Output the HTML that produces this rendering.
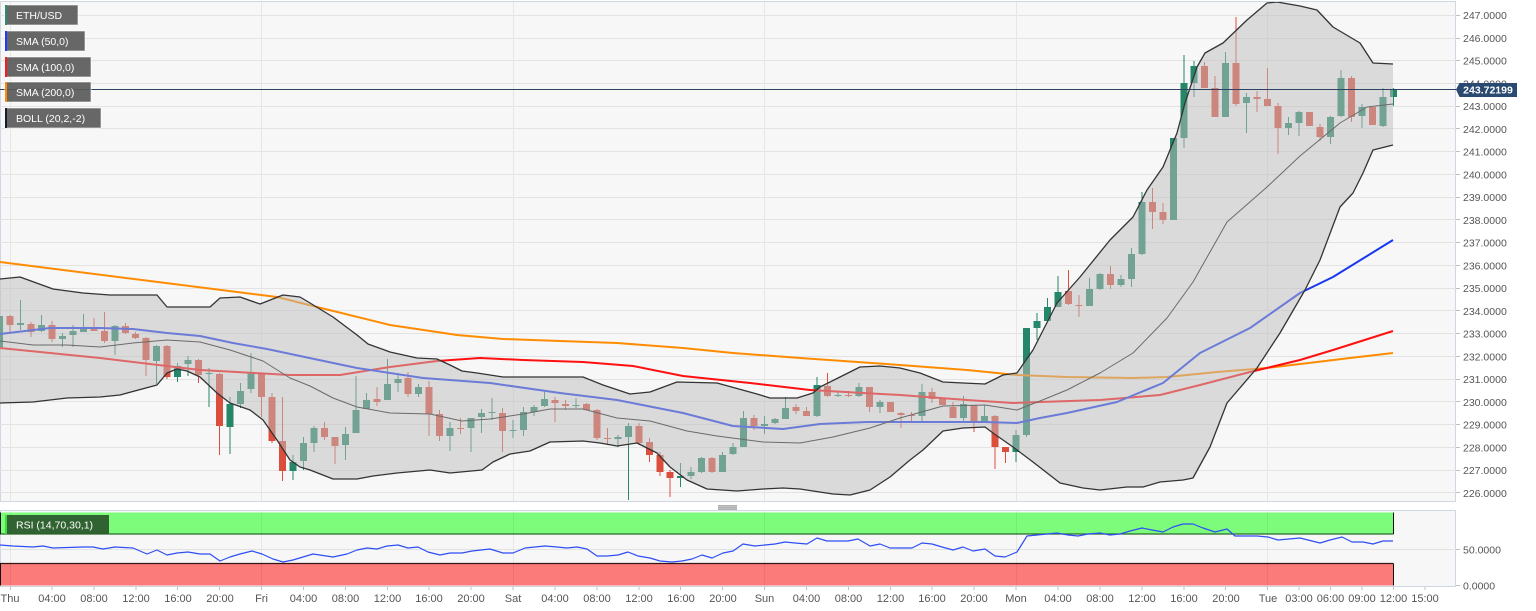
<!DOCTYPE html>
<html><head><meta charset="utf-8"><style>
html,body{margin:0;padding:0;background:#fff;}
svg{display:block;font-family:"Liberation Sans",Arial,Helvetica,sans-serif;}
</style></head><body>
<svg width="1536" height="611" viewBox="0 0 1536 611" xmlns="http://www.w3.org/2000/svg">
<defs>
<clipPath id="mainclip"><rect x="0" y="2" width="1456" height="499"/></clipPath>
</defs>
<rect x="0" y="0" width="1536" height="611" fill="#ffffff"/>
<!-- main panel -->
<rect x="0.5" y="1.5" width="1455" height="500" fill="#f7f7f7" stroke="#cfd6e4" stroke-width="1"/>
<g stroke="#e3e3e3" stroke-width="1">
<path d="M0 15.5H1456M0 38.5H1456M0 60.5H1456M0 83.5H1456M0 106.5H1456M0 128.5H1456M0 151.5H1456M0 174.5H1456M0 197.5H1456M0 219.5H1456M0 242.5H1456M0 265.5H1456M0 288.5H1456M0 310.5H1456M0 333.5H1456M0 356.5H1456M0 379.5H1456M0 401.5H1456M0 424.5H1456M0 447.5H1456M0 470.5H1456M0 492.5H1456"/>
<path d="M10.5 2V501M261.5 2V501M513.5 2V501M764.5 2V501M1016.5 2V501M1267.5 2V501" stroke="#e6e6e6"/>
</g>
<g clip-path="url(#mainclip)">
<!-- green candles -->
<path fill="none" stroke="#26866a" stroke-width="1" d="M-0.5 305V350M20.5 300V330M41.5 315V332M62.5 333V347M73 325V347M83.5 314V332M115 325V355M156.5 345V384M177.5 363V382M188 356V376M209 368V407M230 397V454M240.5 383V408M251 353V393M293 455V480M303.5 437V470M314 426V452M345.5 427V460M356 376V433M366.5 393V409M387.5 359V400M398 374V392M418.5 384V397M450 422V451M471 418V452M481.5 409V433M492 398V420M513 420V438M523.5 407V436M534 405V416M544.5 392V407M576 398V408M618 435V447M628.5 423V500M680.5 463V487M691 467V479M701.5 457V473M722.5 452V472M733 443V455M743.5 411V447M764.5 416V434M775 418V424M785.5 397V419M817 377V417M838 392V397M859 383V397M880 400V413M922 384V422M963.5 396V423M984.5 405V423M1016 430V462M1026.5 328V437M1037 313V340M1047.5 298V322M1058 276V307M1089.5 278V306M1100 273V290M1121 275V287M1131.5 248V287M1142 192V255M1173.5 138V220M1184 55V148M1194 61V97M1225.5 52V117M1246.5 93V133M1288.5 117V135M1299 111V136M1330.5 116V144M1341 70V117M1362 104V128M1383 88V127M1393.5 88V106"/>
<path fill="#26866a" d="M-4 316h7V347h-7zM17 323h7V325h-7zM38 325h7V331h-7zM59 336h7V339h-7zM69.5 331h7V335h-7zM80 328h7V332h-7zM111.5 326h7V341h-7zM153 346h7V361h-7zM174 366h7V377h-7zM184.5 360h7V364h-7zM205.5 373h7V374h-7zM226.5 404h7V427h-7zM237 391h7V404h-7zM247.5 373h7V389h-7zM289.5 462h7V471h-7zM300 443h7V461h-7zM310.5 428h7V443h-7zM342 434h7V445h-7zM352.5 410h7V433h-7zM363 400h7V409h-7zM384 384h7V400h-7zM394.5 379h7V383h-7zM415 387h7V394h-7zM446.5 428h7V436h-7zM467.5 418h7V428h-7zM478 413h7V417h-7zM488.5 412h7V413h-7zM509.5 430h7V431h-7zM520 412h7V430h-7zM530.5 407h7V412h-7zM541 399h7V406h-7zM572.5 405h7V406h-7zM614.5 437h7V439h-7zM625 426h7V437h-7zM677 476h7V478h-7zM687.5 472h7V476h-7zM698 458h7V472h-7zM719 455h7V472h-7zM729.5 447h7V454h-7zM740 418h7V447h-7zM761 424h7V426h-7zM771.5 419h7V423h-7zM782 408h7V419h-7zM813.5 385h7V416h-7zM834.5 395h7V396h-7zM855.5 387h7V396h-7zM876.5 402h7V407h-7zM918.5 392h7V416h-7zM960 404h7V418h-7zM981 416h7V422h-7zM1012.5 435h7V452h-7zM1023 328h7V435h-7zM1033.5 321h7V328h-7zM1044 307h7V321h-7zM1054.5 292h7V307h-7zM1086 289h7V306h-7zM1096.5 274h7V289h-7zM1117.5 279h7V285h-7zM1128 254h7V279h-7zM1138.5 202h7V254h-7zM1170 138h7V220h-7zM1180.5 83h7V138h-7zM1190.5 66h7V83h-7zM1222 63h7V117h-7zM1243 97h7V103h-7zM1285 123h7V128h-7zM1295.5 112h7V123h-7zM1327 117h7V137h-7zM1337.5 78h7V116h-7zM1358.5 107h7V116h-7zM1379.5 97h7V126h-7zM1390 89h7V97h-7z"/>
<!-- red candles -->
<path fill="none" stroke="#dc4e3c" stroke-width="1" d="M10 315V332M31 322V337M52 321V342M94 318V331M104.5 312V343M125.5 323V334M135.5 332V339M146 337V376M167 345V379M198.5 359V383M219.5 373V455M261.5 373V417M272 393V443M282.5 397V481M324.5 422V440M335 437V464M377 387V406M408 372V397M429 381V436M439.5 410V441M460.5 418V434M502.5 408V452M555 397V422M565.5 400V410M586.5 403V410M597 409V440M607.5 428V445M639 423V445M649.5 438V462M660 452V476M670 470V497M712 457V473M754 415V430M796 404V414M806.5 407V416M827.5 373V397M848.5 391V397M869.5 387V412M890.5 402V412M901 412V428M911.5 412V421M932 388V403M942.5 399V405M953 402V418M974 405V432M995 415V469M1005.5 447V463M1068.5 270V305M1079 295V317M1110.5 266V289M1152.5 188V229M1163 203V224M1204.5 62V88M1215 76V117M1236 17V106M1257 91V112M1267.5 68V106M1278 103V154M1309.5 112V126M1320 124V141M1351.5 76V122M1372.5 107V125"/>
<path fill="#dc4e3c" d="M6.5 316h7V325h-7zM27.5 324h7V332h-7zM48.5 325h7V339h-7zM90.5 328h7V331h-7zM101 331h7V341h-7zM122 326h7V333h-7zM132 334h7V338h-7zM142.5 338h7V360h-7zM163.5 346h7V377h-7zM195 360h7V375h-7zM216 374h7V426h-7zM258 374h7V397h-7zM268.5 397h7V441h-7zM279 441h7V471h-7zM321 428h7V437h-7zM331.5 437h7V446h-7zM373.5 399h7V402h-7zM404.5 378h7V394h-7zM425.5 387h7V414h-7zM436 414h7V436h-7zM457 428h7V429h-7zM499 413h7V431h-7zM551.5 400h7V403h-7zM562 404h7V406h-7zM583 404h7V410h-7zM593.5 410h7V438h-7zM604 438h7V439h-7zM635.5 426h7V443h-7zM646 442h7V455h-7zM656.5 455h7V472h-7zM666.5 472h7V478h-7zM708.5 458h7V472h-7zM750.5 418h7V426h-7zM792.5 407h7V411h-7zM803 411h7V416h-7zM824 386h7V396h-7zM845 395h7V396h-7zM866 387h7V407h-7zM887 402h7V412h-7zM897.5 413h7V415h-7zM908 415h7V416h-7zM928.5 392h7V399h-7zM939 399h7V405h-7zM949.5 407h7V418h-7zM970.5 405h7V422h-7zM991.5 416h7V447h-7zM1002 447h7V452h-7zM1065 291h7V304h-7zM1075.5 305h7V306h-7zM1107 274h7V285h-7zM1149 202h7V212h-7zM1159.5 212h7V220h-7zM1201 66h7V88h-7zM1211.5 88h7V117h-7zM1232.5 63h7V104h-7zM1253.5 97h7V99h-7zM1264 99h7V106h-7zM1274.5 106h7V128h-7zM1306 112h7V126h-7zM1316.5 127h7V137h-7zM1348 78h7V117h-7zM1369 107h7V125h-7z"/>
<!-- SMAs -->
<path fill="none" stroke="#ff8c00" stroke-width="2" stroke-linejoin="round" d="M0 262 L150 281 L277 297 L317 307 L390 325 L457 335 L503 339 L560 341 L617 343 L683 348 L733 353 L800 358 L900 365 L967 370 L1017 375 L1067 377 L1133 378 L1167 377 L1217 372 L1267 368 L1317 362 L1350 358 L1393 353"/>
<path fill="none" stroke="#ff1010" stroke-width="2" stroke-linejoin="round" d="M0 348 L100 358 L200 370 L290 375 L340 375 L390 367 L437 361 L480 358 L523 360 L583 362 L633 366 L683 376 L750 383 L810 390 L900 395 L967 400 L1013 403 L1040 402 L1100 400 L1160 395 L1200 385 L1250 372 L1300 360 L1333 350 L1393 331"/>
<path fill="none" stroke="#1838f0" stroke-width="2" stroke-linejoin="round" d="M0 334 L50 328 L100 328 L133 329 L167 333 L200 336 L233 343 L267 349 L300 356 L357 368 L423 378 L490 383 L560 393 L617 400 L683 413 L733 426 L783 429 L820 424 L867 422 L933 422 L983 422 L1017 423 L1040 418 L1067 413 L1117 402 L1163 383 L1200 353 L1250 328 L1300 293 L1333 277 L1393 240"/>
<!-- Bollinger fill -->
<polygon fill="rgba(190,190,190,0.5)" points="0,279 20,277 53,289 83,293 110,295 157,295 167,307 210,307 220,298 240,297 260,304 283,295 300,297 310,303 333,317 357,335 368,344 390,352 417,358 437,359 450,365 462,371 477,373 503,377 523,377 583,377 603,385 630,394 650,392 677,382 717,383 757,394 770,398 797,398 813,393 820,387 840,377 860,367 880,366 900,368 920,373 943,382 963,383 985,384 1003,375 1017,373 1033,350 1057,303 1080,277 1110,240 1133,217 1147,190 1163,167 1177,133 1185,103 1197,67 1205,53 1223,43 1247,20 1267,3 1277,2 1300,6 1317,10 1333,27 1360,43 1373,63 1393,64 1393,145 1373,150 1363,173 1353,193 1340,207 1320,260 1305,290 1280,333 1257,368 1227,403 1210,447 1193,478 1183,480 1160,482 1143,487 1127,487 1100,490 1083,488 1060,483 1033,462 1013,447 993,433 985,427 963,428 943,431 923,450 910,460 890,477 870,490 850,495 833,494 813,491 800,489 783,488 763,489 737,491 707,489 687,480 670,467 657,453 637,443 617,446 600,443 583,441 550,442 530,451 510,454 493,462 482,470 450,473 430,470 397,473 373,476 357,479 333,479 310,470 300,467 290,460 277,440 263,420 250,410 230,403 217,393 200,377 187,371 177,369 167,373 157,385 120,395 100,397 67,398 33,402 0,403"/>
<!-- Bollinger lines -->
<polyline fill="none" stroke="#333" stroke-width="1.3" stroke-linejoin="round" points="0,279 20,277 53,289 83,293 110,295 157,295 167,307 210,307 220,298 240,297 260,304 283,295 300,297 310,303 333,317 357,335 368,344 390,352 417,358 437,359 450,365 462,371 477,373 503,377 523,377 583,377 603,385 630,394 650,392 677,382 717,383 757,394 770,398 797,398 813,393 820,387 840,377 860,367 880,366 900,368 920,373 943,382 963,383 985,384 1003,375 1017,373 1033,350 1057,303 1080,277 1110,240 1133,217 1147,190 1163,167 1177,133 1185,103 1197,67 1205,53 1223,43 1247,20 1267,3 1277,2 1300,6 1317,10 1333,27 1360,43 1373,63 1393,64"/>
<polyline fill="none" stroke="#333" stroke-width="1.3" stroke-linejoin="round" points="1393,145 1373,150 1363,173 1353,193 1340,207 1320,260 1305,290 1280,333 1257,368 1227,403 1210,447 1193,478 1183,480 1160,482 1143,487 1127,487 1100,490 1083,488 1060,483 1033,462 1013,447 993,433 985,427 963,428 943,431 923,450 910,460 890,477 870,490 850,495 833,494 813,491 800,489 783,488 763,489 737,491 707,489 687,480 670,467 657,453 637,443 617,446 600,443 583,441 550,442 530,451 510,454 493,462 482,470 450,473 430,470 397,473 373,476 357,479 333,479 310,470 300,467 290,460 277,440 263,420 250,410 230,403 217,393 200,377 187,371 177,369 167,373 157,385 120,395 100,397 67,398 33,402 0,403"/>
<path fill="none" stroke="#6a6a6a" stroke-width="1" stroke-linejoin="round" d="M0 341 L33 345 L67 345 L100 347 L133 343 L167 340 L200 342 L230 350 L263 361 L290 378 L310 386 L333 398 L357 407 L390 413 L430 414 L462 421 L490 419 L523 414 L550 409 L583 409 L617 418 L650 421 L687 431 L717 436 L763 442 L800 443 L833 437 L870 428 L900 418 L943 406 L985 405 L1017 410 L1040 401 L1067 390 L1100 373 L1133 353 L1167 318 L1193 282 L1227 222 L1267 187 L1300 156 L1340 123 L1367 107 L1393 104"/>
<!-- current price line -->
<path d="M0 89.5H1456" stroke="#2e4262" stroke-width="1"/>
</g>
<!-- legend -->
<g font-size="10.5" fill="#fff">
<rect x="5" y="5" width="73" height="20" fill="#5a5a5a" fill-opacity="0.92" stroke="#fff" stroke-opacity="0.6"/>
<rect x="5" y="5" width="2" height="20" fill="#2e8b6e"/>
<text x="16" y="19">ETH/USD</text>
<rect x="5" y="31" width="80" height="20" fill="#5a5a5a" fill-opacity="0.92" stroke="#fff" stroke-opacity="0.6"/>
<rect x="5" y="31" width="2" height="20" fill="#1a3cff"/>
<text x="16" y="45">SMA (50,0)</text>
<rect x="5" y="57" width="86" height="20" fill="#5a5a5a" fill-opacity="0.92" stroke="#fff" stroke-opacity="0.6"/>
<rect x="5" y="57" width="2" height="20" fill="#ff1a1a"/>
<text x="16" y="71">SMA (100,0)</text>
<rect x="5" y="82" width="86" height="20" fill="#5a5a5a" fill-opacity="0.92" stroke="#fff" stroke-opacity="0.6"/>
<rect x="5" y="82" width="2" height="20" fill="#ff8c00"/>
<text x="16" y="96">SMA (200,0)</text>
<rect x="5" y="108" width="96" height="20" fill="#5a5a5a" fill-opacity="0.92" stroke="#fff" stroke-opacity="0.6"/>
<rect x="5" y="108" width="2" height="20" fill="#1a1a2a"/>
<text x="16" y="122">BOLL (20,2,-2)</text>
</g>
<!-- price axis -->
<g stroke="#b8bfcc" stroke-width="1">
<path d="M1456 15.5h4M1456 38.5h4M1456 60.5h4M1456 83.5h4M1456 106.5h4M1456 128.5h4M1456 151.5h4M1456 174.5h4M1456 197.5h4M1456 219.5h4M1456 242.5h4M1456 265.5h4M1456 288.5h4M1456 310.5h4M1456 333.5h4M1456 356.5h4M1456 379.5h4M1456 401.5h4M1456 424.5h4M1456 447.5h4M1456 470.5h4M1456 492.5h4"/>
</g>
<g font-size="10.5" fill="#555">
<text x="1463" y="19">247.0000</text>
<text x="1463" y="42">246.0000</text>
<text x="1463" y="64.5">245.0000</text>
<text x="1463" y="87.5">244.0000</text>
<text x="1463" y="110">243.0000</text>
<text x="1463" y="133">242.0000</text>
<text x="1463" y="155.5">241.0000</text>
<text x="1463" y="178.5">240.0000</text>
<text x="1463" y="201">239.0000</text>
<text x="1463" y="224">238.0000</text>
<text x="1463" y="246.5">237.0000</text>
<text x="1463" y="269.5">236.0000</text>
<text x="1463" y="292">235.0000</text>
<text x="1463" y="315">234.0000</text>
<text x="1463" y="337.5">233.0000</text>
<text x="1463" y="360.5">232.0000</text>
<text x="1463" y="383">231.0000</text>
<text x="1463" y="406">230.0000</text>
<text x="1463" y="428.5">229.0000</text>
<text x="1463" y="451.5">228.0000</text>
<text x="1463" y="474">227.0000</text>
<text x="1463" y="497">226.0000</text>
</g>
<polygon points="1456,89.5 1459.5,83 1517,83 1517,97 1459.5,97" fill="#2b4a72"/>
<text x="1488" y="93.5" font-size="10.5" font-weight="bold" fill="#fff" text-anchor="middle">243.72199</text>
<!-- separator handle -->
<rect x="718" y="505" width="19" height="5" fill="#b0b0b0"/>
<path d="M718 506.5h19M718 508.5h19" stroke="#d0d0d0" stroke-width="0.6"/>
<!-- RSI panel -->
<rect x="0.5" y="510.5" width="1455" height="76" fill="#f7f7f7" stroke="#cfd6e4" stroke-width="1"/>
<path d="M0 549.5H1456" stroke="#e2e2e2" stroke-width="1"/>
<rect x="0" y="512.5" width="1393.5" height="21.5" fill="#7dfb7b"/>
<rect x="0" y="563.5" width="1393.5" height="22" fill="#fb7b7b"/>
<path d="M10.5 511V586M261.5 511V586M513.5 511V586M764.5 511V586M1016.5 511V586M1267.5 511V586" stroke="#000" stroke-opacity="0.06" stroke-width="1"/>
<path d="M0 534H1393.5" stroke="#2a6a2a" stroke-width="1.2"/>
<path d="M0 563.5H1393.5" stroke="#3a1616" stroke-width="1.2"/>
<path d="M1393.5 512.5V534M1393.5 563.5V585.5M0.5 512.5V534M0.5 563.5V585.5" stroke="#111" stroke-width="1"/>
<polyline fill="none" stroke="#2f4ef5" stroke-width="1.2" stroke-linejoin="round" points="0,545 13,546 33,547 43,546 53,548 83,547 93,547 103,549 115,547 133,548 147,554 157,550 167,555 177,553 188,552 200,554 210,554 220,561 230,557 240,554 252,551 262,554 273,559 283,562 293,560 313,554 333,557 347,554 357,550 367,548 377,549 387,546 398,545 408,548 418,547 428,552 440,555 450,553 462,553 472,551 490,549 503,553 513,553 525,548 535,547 545,546 557,547 567,548 577,547 587,549 597,556 607,556 618,555 628,552 638,556 650,558 660,561 672,562 682,561 692,559 702,555 712,558 723,553 733,551 743,544 755,546 765,545 775,544 785,542 795,543 807,544 817,538 827,541 838,541 848,541 858,539 870,546 880,544 890,548 900,548 912,548 922,543 932,544 942,547 953,550 963,547 973,551 985,549 995,556 1005,557 1017,552 1027,536 1037,535 1047,534 1057,533 1068,535 1078,536 1088,534 1100,533 1110,535 1120,534 1130,531 1142,528 1152,530 1163,532 1173,527 1183,524 1193,524 1203,528 1215,532 1227,529 1235,536 1257,536 1268,537 1278,540 1300,538 1320,543 1330,540 1342,537 1352,542 1363,542 1373,544 1383,541 1393,541"/>
<rect x="5" y="515" width="104" height="19" fill="#2d5a2d" fill-opacity="0.95"/>
<rect x="5" y="515" width="2" height="19" fill="#3cdc3c"/>
<text x="16" y="528.5" font-size="10.5" fill="#fff">RSI (14,70,30,1)</text>
<path d="M1456 549.5h4M1456 585.5h4" stroke="#b8bfcc" stroke-width="1"/>
<text x="1463" y="553.5" font-size="10.5" fill="#555">50.0000</text>
<text x="1463" y="589.5" font-size="10.5" fill="#555">0.0000</text>
<!-- time axis -->
<path d="M10.5 587v3M52 587v3M94 587v3M136 587v3M177.5 587v3M219.5 587v3M261.5 587v3M303.5 587v3M345.5 587v3M387.5 587v3M429 587v3M471 587v3M513 587v3M555 587v3M597 587v3M639 587v3M680.5 587v3M722.5 587v3M764.5 587v3M806.5 587v3M848.5 587v3M890.5 587v3M932 587v3M974 587v3M1016 587v3M1058 587v3M1100 587v3M1142 587v3M1184 587v3M1225.5 587v3M1267.5 587v3M1299 587v3M1330.5 587v3M1362 587v3M1393.5 587v3M1425 587v3" stroke="#b8bfcc" stroke-width="1"/>
<g font-size="11" fill="#555" text-anchor="middle">
<text x="10" y="602">Thu</text>
<text x="52" y="602">04:00</text>
<text x="94" y="602">08:00</text>
<text x="136" y="602">12:00</text>
<text x="178" y="602">16:00</text>
<text x="220" y="602">20:00</text>
<text x="261.5" y="602">Fri</text>
<text x="303.5" y="602">04:00</text>
<text x="345.5" y="602">08:00</text>
<text x="387.5" y="602">12:00</text>
<text x="429" y="602">16:00</text>
<text x="471" y="602">20:00</text>
<text x="513" y="602">Sat</text>
<text x="555" y="602">04:00</text>
<text x="597" y="602">08:00</text>
<text x="639" y="602">12:00</text>
<text x="681" y="602">16:00</text>
<text x="723" y="602">20:00</text>
<text x="764.5" y="602">Sun</text>
<text x="806.5" y="602">04:00</text>
<text x="848.5" y="602">08:00</text>
<text x="890.5" y="602">12:00</text>
<text x="932" y="602">16:00</text>
<text x="974" y="602">20:00</text>
<text x="1016" y="602">Mon</text>
<text x="1058" y="602">04:00</text>
<text x="1100" y="602">08:00</text>
<text x="1142" y="602">12:00</text>
<text x="1184" y="602">16:00</text>
<text x="1226" y="602">20:00</text>
<text x="1268" y="602">Tue</text>
<text x="1299" y="602">03:00</text>
<text x="1330.5" y="602">06:00</text>
<text x="1362" y="602">09:00</text>
<text x="1393.5" y="602">12:00</text>
<text x="1425" y="602">15:00</text>
</g>
</svg>
</body></html>
